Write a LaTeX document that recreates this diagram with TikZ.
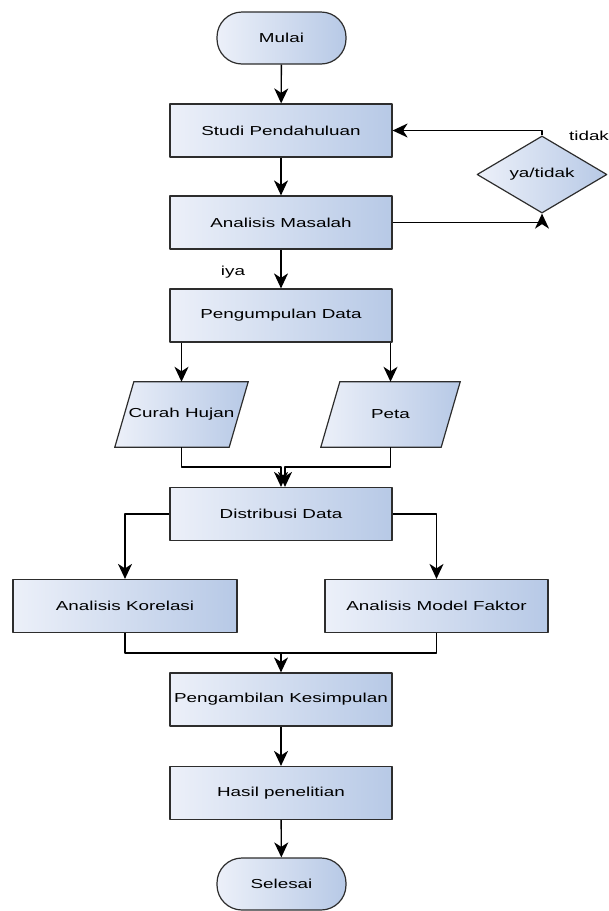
\documentclass[tikz,border=0pt]{standalone}
\usepackage{fontspec}
\setmainfont{Liberation Sans}[FakeStretch=1.45]
\usetikzlibrary{arrows.meta,shapes.geometric,backgrounds}
\definecolor{boxleft}{RGB}{236,240,249}
\definecolor{boxright}{RGB}{183,201,230}
\definecolor{tepi}{RGB}{45,45,45}
\begin{document}
\begin{tikzpicture}[x=1pt,y=-1pt,line join=round,font=\fontsize{13}{15}\selectfont,
	>={Stealth[length=15pt,width=14pt,inset=4.5pt]},
	isi/.style={draw=tepi,line width=1.2pt,left color=boxleft,right color=boxright,inner sep=0pt},
	proses/.style={isi,rectangle,minimum width=222pt,minimum height=53pt},
	terminal/.style={isi,rectangle,rounded corners=25pt,minimum width=129pt,minimum height=52pt},
	keputusan/.style={isi,diamond,minimum width=130pt,minimum height=63pt},
	datamasuk/.style={inner sep=0pt,minimum width=114pt,minimum height=65pt},
	garis/.style={line width=1.4pt}]
	\useasboundingbox (0,0) rectangle (609,911);
	% simpul-simpul
	\node[terminal] (mulai) at (281.5,38) {Mulai};
	\node[proses] (studi) at (281,130.5) {Studi Pendahuluan};
	\node[proses] (masalah) at (281,222.5) {Analisis Masalah};
	\node[keputusan] (cek) at (542,174.5) {ya/tidak};
	\node (tidak) at (589,136) {tidak};
	\node[proses] (kumpul) at (281,315.5) {Pengumpulan Data};
	\node (iya) at (233,272) {iya};
	\node[datamasuk] (hujan) at (181.5,414.5) {Curah Hujan};
	\node[datamasuk,minimum width=120pt] (peta) at (390.5,414.5) {Peta};
	\node[proses] (distribusi) at (281,514) {Distribusi Data};
	\node[proses,minimum width=224pt] (korelasi) at (125,606) {Analisis Korelasi};
	\node[proses,minimum width=223pt] (faktor) at (436.5,606) {Analisis Model Faktor};
	\node[proses] (simpul) at (281,699.5) {Pengambilan Kesimpulan};
	\node[proses] (hasil) at (281,793) {Hasil penelitian};
	\node[terminal] (selesai) at (281.5,884) {Selesai};
	\path (281,467) coordinate (m1) (285,467) coordinate (m2) (281,653) coordinate (m3);
	% jajaran genjang data
	\begin{scope}[on background layer]
	\foreach \d in {hujan,peta}
	\shade[isi] ([xshift=-9.5pt]\d.south west) -- ([xshift=-9.5pt]\d.south east)
		-- ([xshift=9.5pt]\d.north east) -- ([xshift=9.5pt]\d.north west) -- cycle;
	\end{scope}
	% panah
	\foreach \a/\b in {mulai/studi,studi/masalah,masalah/kumpul,simpul/hasil,hasil/selesai}
	\draw[garis,->] (\a) -- (\b);
	\draw[garis,->] (masalah.east) -| (cek.south);
	\draw[garis,->] (cek.north) |- (studi.east);
	\draw[garis,->] (hujan.north |- kumpul.south) -- (hujan.north);
	\draw[garis,->] (peta.north |- kumpul.south) -- (peta.north);
	\draw[garis,->] (hujan.south) |- (m1) -- (m1 |- distribusi.north);
	\draw[garis,->] (peta.south) |- (m2) -- (m2 |- distribusi.north);
	\draw[garis,->] (distribusi.west) -| (korelasi.north);
	\draw[garis,->] (distribusi.east) -| (faktor.north);
	\draw[garis] (faktor.south) |- (m3);
	\draw[garis,->] (korelasi.south) |- (m3) -- (simpul.north);
\end{tikzpicture}
\end{document}
